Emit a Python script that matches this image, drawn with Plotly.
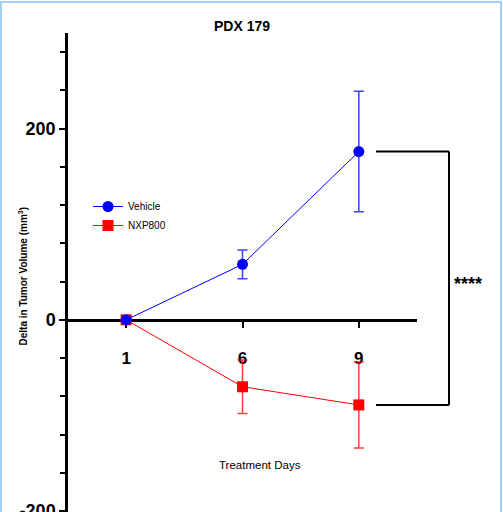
import plotly.graph_objects as go

# ---- data ----
days = ["1", "6", "9"]
vehicle_mean = [0, 58, 176]
vehicle_err = [0, 15, 63]
nxp_mean = [0, -70, -89]
nxp_err = [0, 28, 45]
y_tickvals = [-200, 0, 200]
y_ticktext = ["-200", "0", "200"]
significance = "****"

W, H = 503, 512
ML, MR, MT, MB = 68, 86, 33, 0
YMIN, YMAX = -201, 300
PW, PH = W - ML - MR, H - MT - MB

def px_x(px):
    return (px - ML) / PW

def px_y(py):
    return (H - MB - py) / PH

def val_y(v):
    return (v - YMIN) / (YMAX - YMIN)

FONT = "Arial, Liberation Sans, sans-serif"

fig = go.Figure()
fig.add_trace(go.Scatter(
    x=days, y=nxp_mean, name="NXP800", mode="lines+markers",
    line=dict(color="#ff0000", width=1),
    marker=dict(symbol="square", size=11, color="#ff0000"),
    error_y=dict(type="data", array=nxp_err, visible=True,
                 color="rgba(255,0,0,0.75)", thickness=1.5, width=5),
))
fig.add_trace(go.Scatter(
    x=days, y=vehicle_mean, name="Vehicle", mode="lines+markers",
    line=dict(color="#0000ff", width=1),
    marker=dict(symbol="circle", size=11, color="#0000ff"),
    error_y=dict(type="data", array=vehicle_err, visible=True,
                 color="rgba(0,0,255,0.75)", thickness=1.5, width=5),
))

# significance bracket between final-day means
xa, xb = px_x(376), px_x(449)
y_top, y_bot = val_y(vehicle_mean[-1]), val_y(nxp_mean[-1])
shapes = [
    dict(type="line", xref="paper", yref="paper", x0=xa, x1=xb, y0=y_top, y1=y_top,
         line=dict(color="black", width=2)),
    dict(type="line", xref="paper", yref="paper", x0=xb, x1=xb, y0=y_top, y1=y_bot,
         line=dict(color="black", width=2)),
    dict(type="line", xref="paper", yref="paper", x0=xa, x1=xb, y0=y_bot, y1=y_bot,
         line=dict(color="black", width=2)),
    # light blue frame
    dict(type="rect", xref="paper", yref="paper", x0=px_x(1), x1=px_x(501),
         y0=px_y(530), y1=px_y(2), line=dict(color="#a4cff7", width=2),
         fillcolor="rgba(0,0,0,0)", layer="above"),
]

annotations = [
    dict(text=significance, xref="paper", yref="paper", x=px_x(468), y=px_y(284),
         xanchor="center", yanchor="middle", showarrow=False,
         font=dict(family=FONT, size=18, color="black", weight="bold")),
    dict(text="Treatment Days", xref="paper", yref="paper", x=px_x(259.5), y=px_y(465),
         xanchor="center", yanchor="middle", showarrow=False,
         font=dict(family=FONT, size=11.5, color="black")),
    dict(text="Delta in Tumor Volume (mm<sup>3</sup>)", xref="paper", yref="paper",
         x=px_x(22.5), y=px_y(276), xanchor="center", yanchor="middle",
         textangle=-90, showarrow=False,
         font=dict(family=FONT, size=10, color="black", weight="bold")),
]

fig.update_layout(
    width=W, height=H,
    margin=dict(l=ML, r=MR, t=MT, b=MB, autoexpand=False),
    paper_bgcolor="white", plot_bgcolor="white",
    showlegend=True,
    legend=dict(x=px_x(88), y=px_y(192), xanchor="left", yanchor="top",
                traceorder="reversed", bgcolor="rgba(0,0,0,0)",
                font=dict(family=FONT, size=10, color="black"),
                tracegroupgap=0),
    title=dict(text="PDX 179", x=242 / W, xref="container", xanchor="center",
               y=1 - 26 / H, yref="container", yanchor="middle",
               font=dict(family=FONT, size=14, color="black", weight="bold")),
    shapes=shapes,
    annotations=annotations,
    xaxis=dict(type="category", categoryorder="array", categoryarray=days,
               range=[-0.5, 2.5], anchor="free", position=val_y(0),
               showline=True, linecolor="black", linewidth=2.5,
               ticks="outside", ticklen=6, tickwidth=2, tickcolor="black",
               ticklabelstandoff=16, showgrid=False, zeroline=False,
               layer="below traces", automargin=False,
               tickfont=dict(family=FONT, size=17, color="black", weight="bold")),
    yaxis=dict(range=[YMIN, YMAX], showline=True, linecolor="black", linewidth=2.5,
               tickvals=y_tickvals, ticktext=y_ticktext,
               ticks="outside", ticklen=6, tickwidth=2, tickcolor="black",
               ticklabeloverflow="allow", automargin=False,
               minor=dict(dtick=40, tick0=0, ticks="outside", ticklen=5,
                          tickwidth=2, tickcolor="black"),
               showgrid=False, zeroline=False,
               tickfont=dict(family=FONT, size=18, color="black", weight="bold")),
)

fig.write_html("out.html", config={"displayModeBar": False},
               post_script="document.body.style.margin='0';document.body.style.padding='0';")
